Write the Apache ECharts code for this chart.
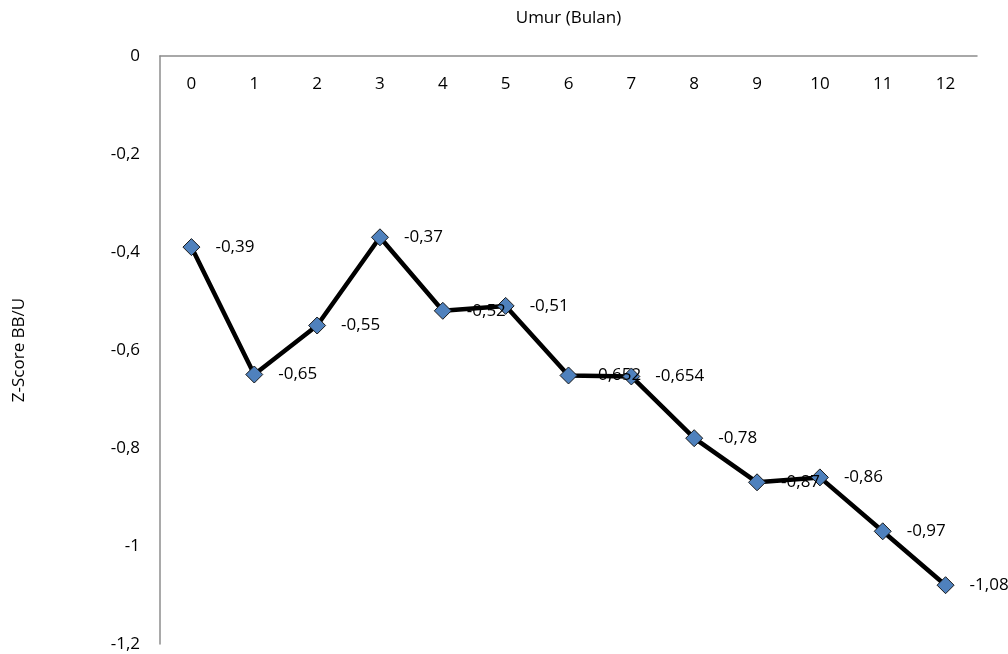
<!DOCTYPE html>
<html><head><meta charset="utf-8">
<script src="https://cdn.jsdelivr.net/npm/echarts@6/dist/echarts.min.js"></script>
<style>html,body{margin:0;padding:0;background:#fff}#c{width:1008px;height:654px}</style>
</head><body><div id="c"></div>
<script>
const categories = ['0','1','2','3','4','5','6','7','8','9','10','11','12'];
const zscore = [-0.39,-0.65,-0.55,-0.37,-0.52,-0.51,-0.652,-0.654,-0.78,-0.87,-0.86,-0.97,-1.08];
const yTicks = [0,-0.2,-0.4,-0.6,-0.8,-1,-1.2];
const fmt = v => String(v).replace('.', ',');
const font = 'Open Sans';
const fs = 17;
const chart = echarts.init(document.getElementById('c'));
chart.setOption({
  animation:false,
  backgroundColor:'#fff',
  textStyle:{fontFamily:font},
  grid:{left:160,right:31,top:56,bottom:10},
  xAxis:{type:'category',data:categories,position:'top',
    name:'Umur (Bulan)',nameLocation:'middle',nameGap:29,
    nameTextStyle:{fontSize:fs,color:'#000',fontFamily:font},
    axisLine:{lineStyle:{color:'#8c8c8c',width:1.5}},
    axisTick:{show:false},
    axisLabel:{inside:true,margin:20,fontSize:fs,color:'#000',fontFamily:font}},
  yAxis:{type:'value',min:-1.2,max:0,interval:0.2,
    name:'Z-Score BB/U',nameLocation:'middle',nameGap:132,nameRotate:90,
    nameTextStyle:{fontSize:fs,color:'#000',fontFamily:font},
    axisLine:{show:true,lineStyle:{color:'#8c8c8c',width:1.5}},
    axisTick:{show:false},splitLine:{show:false},
    axisLabel:{margin:20,fontSize:fs,color:'#000',fontFamily:font,
      formatter:v=>fmt(Math.round(v*10)/10)}},
  series:[{type:'line',data:zscore,symbol:'diamond',symbolSize:17,
    lineStyle:{color:'#000',width:4.5},
    itemStyle:{color:'#4F81BD',borderColor:'#1a1a1a',borderWidth:1},
    label:{show:true,position:'right',distance:15,fontSize:fs,color:'#000',fontFamily:font,
      formatter:p=>fmt(p.value)},
    z:3}]
});
</script></body></html>
